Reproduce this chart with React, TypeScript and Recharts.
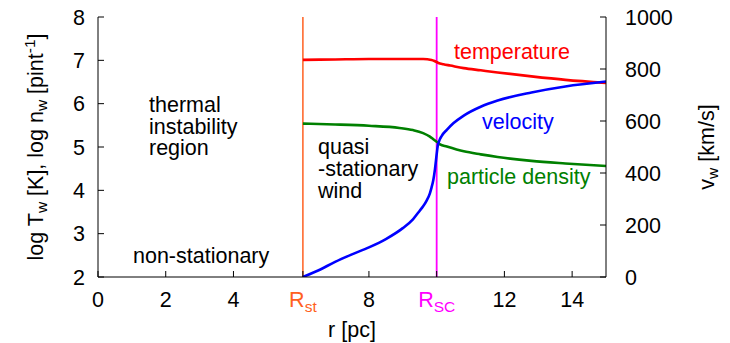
import React from "react";
import { ComposedChart, Line, XAxis, YAxis, ReferenceLine } from "recharts";

// ---- data ----
const X_TICKS = [0, 2, 4, 6.05, 8, 10, 12, 14];
const X_TICK_LABELS = ["0", "2", "4", "R|st", "8", "R|SC", "12", "14"];
const LEFT_TICKS = [2, 3, 4, 5, 6, 7, 8];
const RIGHT_TICKS = [0, 200, 400, 600, 800, 1000];
const R_ST = 6.05;
const R_SC = 10;

const tempR = [6.05, 7, 8, 9, 9.6, 9.85, 9.95, 10.05, 10.2, 10.4, 10.8, 11.3, 11.8, 12.8, 13.8, 15];
const tempLog = [7.01, 7.02, 7.03, 7.03, 7.03, 7.01, 6.98, 6.94, 6.91, 6.88, 6.82, 6.77, 6.72, 6.63, 6.55, 6.48];

const densR = [6.05, 7, 8, 8.9, 9.3, 9.6, 9.8, 9.9, 10.0, 10.1, 10.3, 10.8, 11.3, 11.8, 12.8, 13.8, 15];
const densLog = [5.54, 5.52, 5.49, 5.44, 5.39, 5.32, 5.24, 5.18, 5.12, 5.06, 5.01, 4.9, 4.83, 4.77, 4.68, 4.62, 4.56];

const velR = [6.05, 6.5, 7, 7.5, 8, 8.5, 9, 9.3, 9.5, 9.6, 9.7, 9.8, 9.85, 9.9, 9.95, 10.0, 10.03, 10.07, 10.15, 10.3, 10.5, 10.8, 11.3, 11.8, 12.8, 13.8, 15];
const velKms = [0, 25, 58, 87, 114, 146, 188, 222, 255, 272, 293, 322, 345, 372, 415, 472, 503, 522, 543, 566, 592, 621, 655, 679, 710, 733, 752];

const tempData = tempR.map((r, i) => ({ r, v: tempLog[i] }));
const densData = densR.map((r, i) => ({ r, v: densLog[i] }));
const velData = velR.map((r, i) => ({ r, v: velKms[i] }));

const FONT = "'Liberation Sans', Arial, Helvetica, sans-serif";
const FS = 21.5;
const SUB = 15.5;
const TICK_LEN = 6;

const labelColor = (lab: string) =>
  lab === "R|st" ? "#ff6020" : lab === "R|SC" ? "#ff00ff" : "#000";

const BottomTick = (props: any) => {
  const { x, y, index } = props;
  const lab = X_TICK_LABELS[index] ?? String(props.payload?.value);
  const parts = lab.split("|");
  return (
    <g>
      <line x1={x} x2={x} y1={y} y2={y - TICK_LEN} stroke="#000" strokeWidth={1} />
      <text x={x} y={y + 30} textAnchor="middle" fontFamily={FONT} fontSize={FS} fill={labelColor(lab)}>
        {parts.length === 1 ? (
          lab
        ) : (
          <>
            <tspan>{parts[0]}</tspan>
            <tspan dy={4.5} fontSize={SUB}>{parts[1]}</tspan>
          </>
        )}
      </text>
    </g>
  );
};

const TopTick = (props: any) => {
  const { x, y } = props;
  return <line x1={x} x2={x} y1={y} y2={y + TICK_LEN} stroke="#000" strokeWidth={1} />;
};

const LeftTick = (props: any) => {
  const { x, y, payload } = props;
  return (
    <g>
      <line x1={x} x2={x + TICK_LEN} y1={y} y2={y} stroke="#000" strokeWidth={1} />
      <text x={x - 13} y={y} dy={7.5} textAnchor="end" fontFamily={FONT} fontSize={FS} fill="#000">
        {payload.value}
      </text>
    </g>
  );
};

const RightTick = (props: any) => {
  const { x, y, payload } = props;
  return (
    <g>
      <line x1={x} x2={x - TICK_LEN} y1={y} y2={y} stroke="#000" strokeWidth={1} />
      <text x={x + 19} y={y} dy={7.5} textAnchor="start" fontFamily={FONT} fontSize={FS} fill="#000">
        {payload.value}
      </text>
    </g>
  );
};

const T = (p: any) => <text fontFamily={FONT} fontSize={FS} {...p} />;

const Multi = ({ x, y, lines, gap }: { x: number; y: number; lines: string[]; gap: number }) => (
  <text fontFamily={FONT} fontSize={FS} fill="#000" x={x} y={y}>
    {lines.map((l, i) => (
      <tspan key={i} x={x} dy={i === 0 ? 0 : gap}>
        {l}
      </tspan>
    ))}
  </text>
);

export default function App() {
  return (
    <div style={{ position: "absolute", left: 0, top: 0, width: 730, height: 343, background: "#fff" }}>
      <ComposedChart width={730} height={343} margin={{ top: 17, right: 0, bottom: 0, left: 0 }}>
        <XAxis
          xAxisId={0}
          dataKey="r"
          type="number"
          domain={[0, 15]}
          ticks={X_TICKS}
          interval={0}
          allowDataOverflow
          height={66}
          tickSize={0}
          tickMargin={0}
          tickLine={false}
          axisLine={{ stroke: "#000", strokeWidth: 1 }}
          tick={<BottomTick />}
        />
        <XAxis
          xAxisId="top"
          orientation="top"
          dataKey="r"
          type="number"
          domain={[0, 15]}
          ticks={X_TICKS}
          interval={0}
          allowDataOverflow
          height={0}
          tickSize={0}
          tickMargin={0}
          tickLine={false}
          axisLine={{ stroke: "#000", strokeWidth: 1 }}
          tick={<TopTick />}
        />
        <YAxis
          yAxisId="left"
          type="number"
          domain={[2, 8]}
          ticks={LEFT_TICKS}
          interval={0}
          allowDataOverflow
          width={98}
          tickSize={0}
          tickMargin={0}
          tickLine={false}
          axisLine={{ stroke: "#000", strokeWidth: 1 }}
          tick={<LeftTick />}
        />
        <YAxis
          yAxisId="right"
          orientation="right"
          type="number"
          domain={[0, 1000]}
          ticks={RIGHT_TICKS}
          interval={0}
          allowDataOverflow
          width={124}
          tickSize={0}
          tickMargin={0}
          tickLine={false}
          axisLine={{ stroke: "#000", strokeWidth: 1 }}
          tick={<RightTick />}
        />
        <ReferenceLine xAxisId={0} yAxisId="left" x={R_ST} stroke="#ff6020" strokeWidth={1.5} />
        <ReferenceLine xAxisId={0} yAxisId="left" x={R_SC} stroke="#ff00ff" strokeWidth={1.8} />
        <Line
          xAxisId={0}
          yAxisId="left"
          data={tempData}
          dataKey="v"
          type="monotone"
          stroke="#ff0000"
          strokeWidth={2.6}
          dot={false}
          isAnimationActive={false}
        />
        <Line
          xAxisId={0}
          yAxisId="left"
          data={densData}
          dataKey="v"
          type="monotone"
          stroke="#008000"
          strokeWidth={2.6}
          dot={false}
          isAnimationActive={false}
        />
        <Line
          xAxisId={0}
          yAxisId="right"
          data={velData}
          dataKey="v"
          type="monotone"
          stroke="#0000ff"
          strokeWidth={2.6}
          dot={false}
          isAnimationActive={false}
        />
        {/* axis titles */}
        <T x={352} y={337} textAnchor="middle" fill="#000">r [pc]</T>
        <T x={42.7} y={147} textAnchor="middle" fill="#000" transform="rotate(-90 42.7 147)">
          <tspan>log T</tspan>
          <tspan dy={4.5} fontSize={SUB}>w</tspan>
          <tspan dy={-4.5}> [K], log n</tspan>
          <tspan dy={4.5} fontSize={SUB}>w</tspan>
          <tspan dy={-4.5}> [pint</tspan>
          <tspan dy={-8} fontSize={SUB}>-1</tspan>
          <tspan dy={8}>]</tspan>
        </T>
        <T x={713.5} y={147} textAnchor="middle" fill="#000" transform="rotate(-90 713.5 147)">
          <tspan>v</tspan>
          <tspan dy={4.5} fontSize={SUB}>w</tspan>
          <tspan dy={-4.5}> [km/s]</tspan>
        </T>
        {/* annotations */}
        <Multi x={149} y={111.8} gap={21.8} lines={["thermal", "instability", "region"]} />
        <T x={133} y={263} fill="#000">non-stationary</T>
        <Multi x={318} y={154} gap={21.8} lines={["quasi", "-stationary", "wind"]} />
        <T x={454} y={58.5} fill="#ff0000">temperature</T>
        <T x={482} y={128.5} fill="#0000ff">velocity</T>
        <T x={447} y={184} fill="#008000">particle density</T>
      </ComposedChart>
    </div>
  );
}
